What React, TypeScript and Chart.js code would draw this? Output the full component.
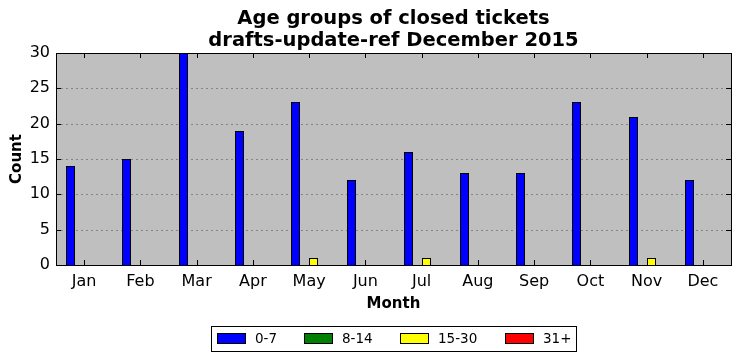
import React, { useEffect, useRef } from "react";
import { Chart, registerables } from "chart.js";

Chart.register(...registerables);

const months = ["Jan", "Feb", "Mar", "Apr", "May", "Jun", "Jul", "Aug", "Sep", "Oct", "Nov", "Dec"];
const age0to7 = [14, 15, 30, 19, 23, 12, 16, 13, 13, 23, 21, 12];
const age8to14 = [0, 0, 0, 0, 0, 0, 0, 0, 0, 0, 0, 0];
const age15to30 = [0, 0, 0, 0, 1, 0, 1, 0, 0, 0, 1, 0];
const age31plus = [0, 0, 0, 0, 0, 0, 0, 0, 0, 0, 0, 0];
const seriesLabels = ["0-7", "8-14", "15-30", "31+"];
const seriesColors = ["#0000ff", "#008000", "#ffff00", "#ff0000"];
const titleLines = ["Age groups of closed tickets", "drafts-update-ref December 2015"];

const FONT = "'DejaVu Sans', sans-serif";

const framePlugin = {
  id: "framePlugin",
  beforeDatasetsDraw(chart: any) {
    const { ctx, chartArea: a } = chart;
    ctx.save();
    ctx.fillStyle = "#bfbfbf";
    ctx.fillRect(a.left, a.top, a.right - a.left, a.bottom - a.top);
    const y = chart.scales.y;
    ctx.strokeStyle = "rgba(0,0,0,0.3)";
    ctx.lineWidth = 1;
    ctx.setLineDash([2, 3]);
    for (let v = 5; v < 30; v += 5) {
      const py = Math.round(y.getPixelForValue(v)) + 0.5;
      ctx.beginPath();
      ctx.moveTo(a.left, py);
      ctx.lineTo(a.right, py);
      ctx.stroke();
    }
    ctx.setLineDash([]);
    chart.data.datasets.forEach((ds: any, di: number) => {
      const meta = chart.getDatasetMeta(di);
      meta.data.forEach((el: any) => {
        const { x, y: ty, base, width } = el.getProps(["x", "y", "base", "width"], true);
        const l = Math.round(x - width / 2);
        const r = Math.round(x + width / 2);
        const t = Math.round(ty);
        const b = Math.round(base);
        if (b - t < 1) return;
        ctx.fillStyle = ds.backgroundColor;
        ctx.fillRect(l, t, r - l, b - t);
        ctx.strokeStyle = "#000";
        ctx.lineWidth = 1;
        ctx.strokeRect(l + 0.5, t + 0.5, r - l - 1, b - t);
      });
    });
    ctx.restore();
    return false;
  },
  afterDraw(chart: any) {
    const { ctx, chartArea: a } = chart;
    const x = chart.scales.x;
    const y = chart.scales.y;
    ctx.save();
    ctx.strokeStyle = "#000";
    ctx.lineWidth = 1;
    ctx.setLineDash([]);
    const tl = 5;
    for (let i = 0; i < months.length; i++) {
      const px = Math.round(x.getPixelForValue(i)) + 0.5;
      ctx.beginPath();
      ctx.moveTo(px, a.top);
      ctx.lineTo(px, a.top + tl);
      ctx.moveTo(px, a.bottom);
      ctx.lineTo(px, a.bottom - tl);
      ctx.stroke();
    }
    for (let v = 0; v <= 30; v += 5) {
      const py = Math.round(y.getPixelForValue(v)) + 0.5;
      ctx.beginPath();
      ctx.moveTo(a.left, py);
      ctx.lineTo(a.left + tl, py);
      ctx.moveTo(a.right, py);
      ctx.lineTo(a.right - tl, py);
      ctx.stroke();
    }
    ctx.strokeRect(Math.round(a.left) + 0.5, Math.round(a.top) + 0.5, Math.round(a.right - a.left), Math.round(a.bottom - a.top));

    ctx.fillStyle = "#000";
    ctx.font = `bold 19.5px ${FONT}`;
    ctx.textAlign = "center";
    ctx.textBaseline = "middle";
    const cx = (a.left + a.right) / 2;
    ctx.fillText(titleLines[0], cx, 19);
    ctx.fillText(titleLines[1], cx, 41);
    const fl = 211, ft = 326, fw = 365, fh = 25;
    ctx.strokeRect(fl + 0.5, ft + 0.5, fw, fh);
    const boxX = [217, 304, 400, 505];
    ctx.font = `13.5px ${FONT}`;
    ctx.textAlign = "left";
    for (let i = 0; i < seriesLabels.length; i++) {
      ctx.fillStyle = seriesColors[i];
      ctx.fillRect(boxX[i], 333, 28, 10);
      ctx.strokeStyle = "#000";
      ctx.strokeRect(boxX[i] + 0.5, 333.5, 28, 10);
      ctx.fillStyle = "#000";
      ctx.fillText(seriesLabels[i], boxX[i] + 38, 339);
    }
    ctx.restore();
  },
};

export default function App() {
  const ref = useRef<HTMLCanvasElement>(null);
  useEffect(() => {
    if (!ref.current) return;
    const data = [age0to7, age8to14, age15to30, age31plus];
    const chart = new Chart(ref.current, {
      type: "bar",
      data: {
        labels: months,
        datasets: data.map((d, i) => ({
          label: seriesLabels[i],
          data: d,
          backgroundColor: seriesColors[i],
          borderColor: "#000",
          borderWidth: 1,
          categoryPercentage: 0.64,
          barPercentage: 1,
        })),
      },
      options: {
        animation: false,
        responsive: false,
        maintainAspectRatio: false,
        layout: { padding: { left: 0, right: 10, top: 53, bottom: 46 } },
        plugins: { legend: { display: false }, title: { display: false }, tooltip: { enabled: false } },
        scales: {
          x: {
            grid: { display: false, drawTicks: false },
            border: { display: false },
            ticks: { color: "#000", font: { family: FONT, size: 16 }, padding: 7, maxRotation: 0 },
            title: { display: true, text: "Month", color: "#000", font: { family: FONT, size: 15, weight: "bold" }, padding: { top: 0, bottom: 2 } },
            afterFit: (s: any) => { s.height = 50; },
          },
          y: {
            min: 0,
            max: 30,
            grid: { display: false, drawTicks: false },
            border: { display: false },
            ticks: { stepSize: 5, color: "#000", font: { family: FONT, size: 16 }, padding: 6 },
            title: { display: true, text: "Count", color: "#000", font: { family: FONT, size: 15, weight: "bold" }, padding: { top: 8, bottom: 0 } },
            afterFit: (s: any) => { s.width = 56; },
          },
        },
      },
      plugins: [framePlugin],
    });
    return () => chart.destroy();
  }, []);
  return (
    <div style={{ position: "fixed", left: 0, top: 0, width: 741, height: 361, background: "#fff" }}>
      <canvas ref={ref} width={741} height={361} style={{ width: 741, height: 361 }} />
    </div>
  );
}
